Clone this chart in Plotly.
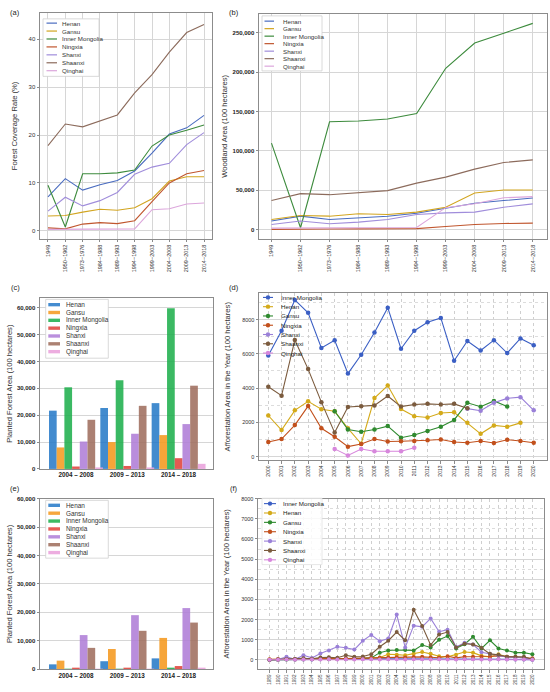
import plotly.graph_objects as go

# ---- data -------------------------------------------------------------
periods = ["1949", "1950\u22121962", "1973\u22121976", "1984\u22121988", "1989\u22121993",
           "1994\u22121998", "1999\u22122003", "2004\u22122008", "2009\u22122013", "2014\u22122018"]
provinces = ["Henan", "Gansu", "Inner Mongolia", "Ningxia", "Shanxi", "Shaanxi", "Qinghai"]

# (a) forest coverage rate, %
henan_cov = [7.1, 10.9, 8.5, 9.6, 10.5, 12.5, 16.2, 20.2, 21.5, 24.1]
gansu_cov = [3.1, 3.2, 3.9, 4.5, 4.3, 4.8, 6.7, 10.4, 11.3, 11.3]
im_cov = [9.5, 0.8, 11.9, 11.9, 12.1, 12.7, 17.7, 20.0, 21.0, 22.1]
ningxia_cov = [0.6, 0.4, 1.4, 1.7, 1.5, 2.1, 6.1, 10.0, 11.9, 12.6]
shanxi_cov = [4.1, 7.0, 5.2, 6.3, 8.0, 11.8, 13.3, 14.1, 18.0, 20.5]
shaanxi_cov = [17.8, 22.3, 21.7, 22.9, 24.2, 28.8, 32.6, 37.3, 41.4, 43.1]
qinghai_cov = [0.3, 0.3, 0.3, 0.3, 0.3, 0.4, 4.4, 4.6, 5.6, 5.8]

# (b) woodland area, 100 ha
henan_wood = [11000, 17200, 13000, 15100, 17200, 21000, 27700, 33600, 37000, 40300]
gansu_wood = [13000, 18000, 17200, 20200, 19300, 22300, 28600, 46600, 50400, 50400]
im_wood = [110000, 2500, 137000, 138000, 140500, 147500, 205000, 237000, 249500, 262000]
ningxia_wood = [400, 300, 900, 1100, 1000, 1400, 4000, 6600, 7900, 8400]
shanxi_wood = [6700, 11000, 7600, 9700, 13000, 19300, 21400, 22300, 28600, 32800]
shaanxi_wood = [37000, 45800, 44500, 46600, 49600, 59200, 66800, 76900, 85300, 88700]
qinghai_wood = [2000, 2000, 2000, 2000, 2000, 2900, 28000, 33000, 40600, 42000]

# (c) / (e) planted forest area, 100 ha
bar_periods = ["2004 \u2013 2008", "2009 \u2013 2013", "2014 \u2013 2018"]
c_henan = [21700, 22700, 24500]
c_gansu = [8000, 10000, 12600]
c_im = [30400, 33000, 59800]
c_ningxia = [900, 1100, 4000]
c_shanxi = [10200, 13100, 16700]
c_shaanxi = [18300, 23500, 31000]
c_qinghai = [200, 500, 1900]

e_henan = [1700, 2800, 3800]
e_gansu = [3000, 7100, 11000]
e_im = [100, 100, 200]
e_ningxia = [300, 400, 1100]
e_shanxi = [12000, 19000, 21500]
e_shaanxi = [7500, 13500, 16400]
e_qinghai = [50, 100, 300]

# (d) afforestation area in the year, 100 ha
d_years = [2000, 2001, 2002, 2003, 2004, 2005, 2006, 2007, 2008, 2009, 2010,
           2011, 2012, 2013, 2014, 2015, 2016, 2017, 2018, 2019, 2020]
d_im = [5900, 7350, 9150, 8400, 6350, 6800, 4850, 5950, 7250, 8700, 6300,
        7350, 7850, 8100, 5600, 6750, 6200, 6800, 6050, 6900, 6500]
d_henan = [2400, 1550, 2700, 3230, 2770, 2650, 1650, 750, 3420, 4150, 2780,
           2360, 2280, 2550, 2590, 1970, 1330, 1820, 1740, 1970]
d_gansu_years = [2005, 2006, 2007, 2008, 2009, 2010, 2011, 2012, 2013, 2014, 2015, 2016, 2017, 2018]
d_gansu = [2650, 1580, 1450, 1580, 1780, 1100, 1260, 1490, 1740, 2140, 3140, 2910, 3250, 2920]
d_ningxia = [850, 1020, 1840, 2950, 1650, 1160, 580, 730, 1030, 880, 900,
             910, 950, 1000, 850, 810, 910, 790, 985, 910, 810]
d_shanxi_years = [2015, 2016, 2017, 2018, 2019, 2020]
d_shanxi = [2800, 2680, 3140, 3400, 3470, 2700]
d_shaanxi = [4080, 3560, 6810, 5110, 3180, 1400, 2900, 2940, 2990, 3540, 2920,
             3040, 3080, 3040, 3080, 2820]
d_qinghai_years = [2005, 2006, 2007, 2008, 2009, 2010, 2011]
d_qinghai = [450, 70, 440, 310, 310, 310, 520]

# (f) afforestation area in the year, 100 ha
f_years = [1989, 1990, 1991, 1992, 1993, 1994, 1995, 1996, 1997, 1998, 1999,
           2000, 2001, 2002, 2003, 2004, 2005, 2006, 2007, 2008, 2009, 2010,
           2011, 2012, 2013, 2014, 2015, 2016, 2017, 2018, 2019, 2020]
f_im = [10, 10, 20, 20, 20, 20, 30, 30, 30, 30, 40, 40, 40, 50, 50, 60,
        60, 60, 50, 50, 40, 40, 40, 40, 40, 30, 30, 30, 30, 20, 20, 10]
f_henan = [20, 20, 30, 30, 30, 40, 40, 50, 50, 60, 60, 70, 80, 120, 280, 260,
           230, 310, 390, 300, 180, 150, 260, 390, 360, 200, 150, 280, 150, 150, 110, 30]
f_gansu = [0, 10, 20, 20, 30, 30, 40, 50, 50, 60, 60, 80, 100, 360, 470, 490,
           490, 470, 740, 620, 1000, 1180, 570, 780, 1150, 570, 970, 570, 470, 360, 360, 280]
f_ningxia = [30, 40, 50, 40, 60, 50, 60, 70, 60, 80, 70, 90, 100, 110, 120, 130,
             120, 140, 150, 130, 110, 180, 100, 160, 160, 150, 170, 200, 150, 130, 110, 80]
f_shanxi = [0, 20, 150, 30, 230, 100, 320, 470, 650, 600, 510, 950, 1240, 930, 1060, 2250,
            620, 1700, 1640, 2060, 1400, 1500, 640, 850, 760, 380, 300, 220, 130, 120, 100, 20]
f_shaanxi = [0, 20, 50, 50, 80, 60, 120, 130, 110, 230, 150, 170, 280, 650, 950, 1380,
             970, 2490, 1680, 740, 1260, 1380, 620, 800, 770, 600, 300, 250, 160, 150, 150, 30]
f_qinghai = [10, 10, 20, 10, 20, 20, 20, 30, 20, 30, 20, 30, 30, 20, 30, 30,
             20, 30, 30, 20, 30, 20, 20, 30, 30, 20, 20, 30, 20, 20, 20, 10]

# ---- styling ----------------------------------------------------------
W, H = 550, 692
FONT = "Liberation Sans, Arial, DejaVu Sans"
line_colors = ["#4a6cc0", "#d2a520", "#3d8b3d", "#c0562e", "#a08ddb", "#8c6b5c", "#dca6dc"]
bar_colors = ["#2a7cc9", "#f59b22", "#20b04e", "#e0453e", "#b07fd8", "#a06f5f", "#eaa2dc"]
dot_colors = {"Inner Mongolia": "#3b5fc4", "Henan": "#d4aa1a", "Gansu": "#2f8a2f",
              "Ningxia": "#c2501c", "Shanxi": "#9a80d8", "Shaanxi": "#7b5b3e",
              "Qinghai": "#d787dc"}
dot_order = ["Inner Mongolia", "Henan", "Gansu", "Ningxia", "Shanxi", "Shaanxi", "Qinghai"]


def px(x):
    return x / W


def py(y):
    return 1 - y / H


fig = go.Figure()

# (a)
cov = [henan_cov, gansu_cov, im_cov, ningxia_cov, shanxi_cov, shaanxi_cov, qinghai_cov]
for name, vals, col in zip(provinces, cov, line_colors):
    fig.add_trace(go.Scatter(x=periods, y=vals, name=name, mode="lines",
                             line=dict(color=col, width=1.1), showlegend=False,
                             xaxis="x", yaxis="y"))

# (b)
wood = [henan_wood, gansu_wood, im_wood, ningxia_wood, shanxi_wood, shaanxi_wood, qinghai_wood]
for name, vals, col in zip(provinces, wood, line_colors):
    fig.add_trace(go.Scatter(x=periods, y=vals, name=name, mode="lines",
                             line=dict(color=col, width=1.1), showlegend=False,
                             xaxis="x2", yaxis="y2"))

# (c) and (e) grouped bars, matplotlib style offsets
bw = 0.15
c_sets = [c_henan, c_gansu, c_im, c_ningxia, c_shanxi, c_shaanxi, c_qinghai]
e_sets = [e_henan, e_gansu, e_im, e_ningxia, e_shanxi, e_shaanxi, e_qinghai]
for ax, sets in (("3", c_sets), ("5", e_sets)):
    for i, (name, vals, col) in enumerate(zip(provinces, sets, bar_colors)):
        fig.add_trace(go.Bar(x=[0, 1, 2], y=vals, name=name, width=bw,
                             offset=(i - 3) * bw - bw / 2, marker_color=col,
                             marker_line_width=0, opacity=0.88, showlegend=False,
                             xaxis="x" + ax, yaxis="y" + ax))

# (d)
d_series = {"Inner Mongolia": (d_years, d_im), "Henan": (d_years[:20], d_henan),
            "Gansu": (d_gansu_years, d_gansu), "Ningxia": (d_years, d_ningxia),
            "Shanxi": (d_shanxi_years, d_shanxi), "Shaanxi": (d_years[:16], d_shaanxi),
            "Qinghai": (d_qinghai_years, d_qinghai)}
for name in dot_order:
    xs, ys = d_series[name]
    fig.add_trace(go.Scatter(x=xs, y=ys, name=name, mode="lines+markers",
                             line=dict(color=dot_colors[name], width=1.1),
                             marker=dict(size=4.5, color=dot_colors[name]),
                             showlegend=False, xaxis="x4", yaxis="y4"))

# (f)
f_series = {"Inner Mongolia": f_im, "Henan": f_henan, "Gansu": f_gansu,
            "Ningxia": f_ningxia, "Shanxi": f_shanxi, "Shaanxi": f_shaanxi,
            "Qinghai": f_qinghai}
for name in dot_order:
    fig.add_trace(go.Scatter(x=f_years, y=f_series[name], name=name, mode="lines+markers",
                             line=dict(color=dot_colors[name], width=1.1),
                             marker=dict(size=4, color=dot_colors[name]),
                             showlegend=False, xaxis="x6", yaxis="y6"))

# ---- axes -------------------------------------------------------------
frame = dict(showline=True, mirror=True, linecolor="#8c8c8c", linewidth=1,
             ticks="outside", ticklen=2.5, tickcolor="#8c8c8c", zeroline=False,
             gridcolor="#d6d6d6", gridwidth=0.8)
tick_small = dict(family=FONT, size=5.5, color="#333")
tick_mid = dict(family=FONT, size=6, color="#333")
tick_bold = dict(family=FONT, size=6, color="#222", weight="bold")
title_font = dict(family=FONT, size=7.6, color="#333")

# pixel boxes [left, right, top, bottom]
boxes = {
    "1": (40, 212, 10, 238),
    "2": (259, 547, 11, 238),
    "3": (40, 213, 298, 470),
    "4": (259, 547, 293, 461),
    "5": (40, 213, 500, 672),
    "6": (258, 544, 500, 672),
}
layout_axes = {}
for k, (l, r, t, b) in boxes.items():
    xs = "xaxis" if k == "1" else "xaxis" + k
    ys = "yaxis" if k == "1" else "yaxis" + k
    anchor_y = "y" if k == "1" else "y" + k
    anchor_x = "x" if k == "1" else "x" + k
    layout_axes[xs] = dict(frame, domain=[px(l), px(r)], anchor=anchor_y)
    layout_axes[ys] = dict(frame, domain=[py(b), py(t)], anchor=anchor_x)

layout_axes["xaxis"].update(type="category", range=[-0.46, 9.46], tickangle=-90,
                            tickfont=tick_small, showgrid=True)
layout_axes["yaxis"].update(range=[-1.7, 45.5], dtick=10, tickfont=tick_mid,
                            title=dict(text="Forest Coverage Rate (%)", font=title_font, standoff=9))
layout_axes["xaxis2"].update(type="category", range=[-0.43, 9.49], tickangle=-90,
                             tickfont=tick_small, showgrid=True)
layout_axes["yaxis2"].update(range=[-11700, 274000], dtick=50000, tickformat=",",
                             tickfont=tick_bold,
                             title=dict(text="Woodland Area (100 hectares)", font=title_font, standoff=3))
for k in ("3", "5"):
    layout_axes["xaxis" + k].update(range=[-0.7, 2.67], tickvals=[0, 1, 2],
                                    ticktext=["<b>%s</b>" % p for p in bar_periods],
                                    tickfont=dict(family=FONT, size=6.3, color="#222"),
                                    showgrid=False, ticks="")
    layout_axes["yaxis" + k].update(dtick=10000, tickformat=",", tickfont=tick_bold,
                                    title=dict(text="Planted Forest Area (100 hectares)",
                                               font=title_font, standoff=3))
layout_axes["yaxis3"].update(range=[0, 63500])
layout_axes["yaxis5"].update(range=[0, 60000])

layout_axes["xaxis4"].update(range=[1999.3, 2021.0], tickvals=d_years, tickangle=-90,
                             tickfont=dict(family=FONT, size=5, color="#333"),
                             griddash="dot", gridcolor="#cfcfcf")
layout_axes["yaxis4"].update(range=[-200, 9530], dtick=2000, tickfont=tick_small,
                             minor=dict(dtick=1000, showgrid=True, griddash="dot",
                                        gridcolor="#dcdcdc", ticks=""),
                             title=dict(text="Afforestation Area in the Year (100 hectares)",
                                        font=title_font, standoff=10))
layout_axes["xaxis6"].update(range=[1987.64, 2021.37], tickvals=f_years, tickangle=-90,
                             tickfont=dict(family=FONT, size=4.6, color="#333"),
                             griddash="dot", gridcolor="#cfcfcf")
layout_axes["yaxis6"].update(range=[-460, 8000], dtick=1000, tickfont=tick_small,
                             minor=dict(dtick=500, showgrid=True, griddash="dot",
                                        gridcolor="#dcdcdc", ticks=""),
                             title=dict(text="Afforestation Area in the Year (100 hectares)",
                                        font=title_font, standoff=10))

# ---- hand-made compact legends (matplotlib look) --------------------------
shapes = []
annotations = []


def legend_box(x0, x1, y0, y1, fill="white", line="#d0d0d0"):
    shapes.append(dict(type="rect", xref="paper", yref="paper", x0=px(x0), x1=px(x1),
                       y0=py(y1), y1=py(y0), fillcolor=fill, line=dict(color=line, width=0.8),
                       layer="above"))


def legend_text(x, y, text, size=6.2, color="#333"):
    annotations.append(dict(text=text, x=px(x), y=py(y), xref="paper", yref="paper",
                            xanchor="left", yanchor="middle", showarrow=False,
                            font=dict(family=FONT, size=size, color=color)))


def line_legend(x0, x1, xt, y0, dy, colors, names):
    for i, (c, n) in enumerate(zip(colors, names)):
        y = y0 + i * dy
        shapes.append(dict(type="line", xref="paper", yref="paper", x0=px(x0), x1=px(x1),
                           y0=py(y), y1=py(y), line=dict(color=c, width=1.2), layer="above"))
        legend_text(xt, y, n)


def bar_legend(x0, x1, xt, y0, dy, colors, names):
    for i, (c, n) in enumerate(zip(colors, names)):
        y = y0 + i * dy
        shapes.append(dict(type="rect", xref="paper", yref="paper", x0=px(x0), x1=px(x1),
                           y0=py(y + 1.7), y1=py(y - 1.7), fillcolor=c, opacity=0.88,
                           line=dict(width=0), layer="above"))
        legend_text(xt, y, n, size=6.4)


def dot_legend(x0, x1, xt, y0, dy, names):
    for i, n in enumerate(names):
        y = y0 + i * dy
        c = dot_colors[n]
        xm = (x0 + x1) / 2
        shapes.append(dict(type="line", xref="paper", yref="paper", x0=px(x0), x1=px(x1),
                           y0=py(y), y1=py(y), line=dict(color=c, width=1.1), layer="above"))
        shapes.append(dict(type="circle", xref="paper", yref="paper", x0=px(xm - 2.2),
                           x1=px(xm + 2.2), y0=py(y + 2.2), y1=py(y - 2.2), fillcolor=c,
                           line=dict(width=0), layer="above"))
        legend_text(xt, y, n, size=6.2, color="#222")


legend_box(43, 99, 16, 74)
line_legend(46.5, 57, 60, 20.3, 8.0, line_colors, provinces)
legend_box(262, 322, 13, 68.5)
line_legend(264.5, 274, 281, 18.3, 7.57, line_colors, provinces)
legend_box(45.7, 108.3, 299, 358.3)
bar_legend(48.3, 60, 64.3, 304.3, 7.9, bar_colors, provinces)
legend_box(45.7, 108.3, 501.7, 560)
bar_legend(48.3, 60, 64.3, 506.7, 7.95, bar_colors, provinces)
dot_legend(263, 273, 279, 297, 9.35, dot_order)
legend_box(262, 322, 499.5, 566.5, fill="rgba(255,255,255,0.85)", line="#e2e2e2")
dot_legend(264, 276, 281, 505, 9.45, dot_order)

for label, (x, y) in {"(a)": (15, 10), "(b)": (234, 10), "(c)": (15, 287),
                      "(d)": (234, 287), "(e)": (15, 490), "(f)": (234, 490)}.items():
    annotations.append(dict(text=label, x=px(x), y=py(y), xref="paper", yref="paper",
                            xanchor="center", yanchor="middle", showarrow=False,
                            font=dict(family=FONT, size=7.5, color="#222")))

fig.update_layout(width=W, height=H, margin=dict(l=0, r=0, t=0, b=0),
                  paper_bgcolor="white", plot_bgcolor="white", barmode="overlay",
                  showlegend=False, shapes=shapes, annotations=annotations,
                  font=dict(family=FONT), **layout_axes)

# page body has a default margin; drop it so the figure fills the window
fig.write_html("out.html", config={"displayModeBar": False},
               post_script="document.body.style.margin='0';")
